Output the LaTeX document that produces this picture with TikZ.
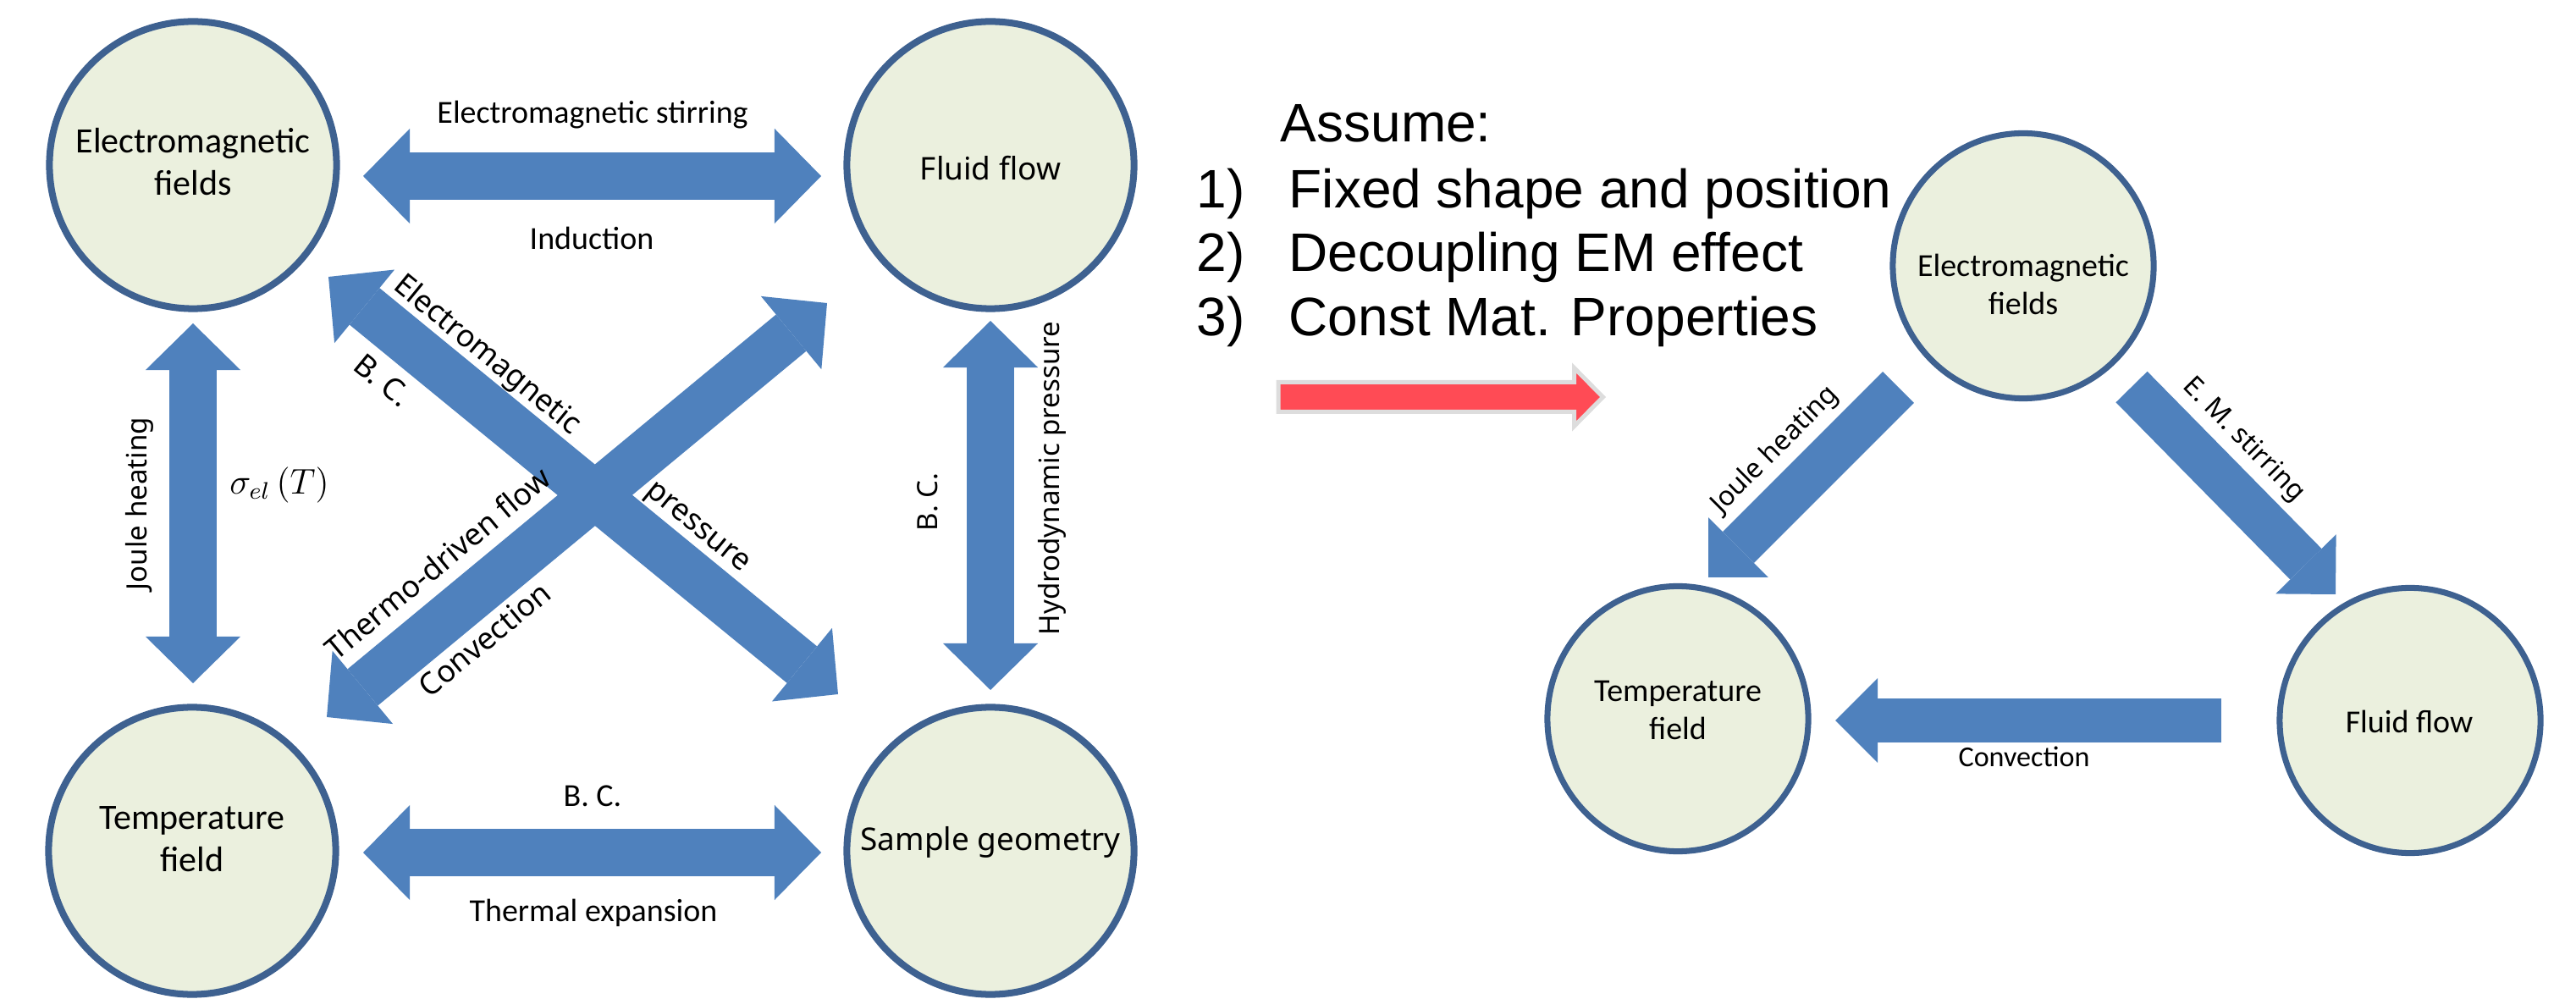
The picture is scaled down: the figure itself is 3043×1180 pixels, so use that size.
\documentclass[tikz,border=0pt]{standalone}
\usepackage[no-math]{fontspec}
\setmainfont{Carlito}
\newfontfamily\notosans{Noto Sans}
\newfontfamily\arialf{Liberation Sans}
\usetikzlibrary{arrows.meta,shapes.geometric}
\definecolor{arrowblue}{HTML}{4F81BD}
\definecolor{ringblue}{HTML}{3E6190}
\definecolor{bubblefill}{HTML}{EBF0DE}
\definecolor{redarrow}{HTML}{FF4B55}
\definecolor{rededge}{HTML}{DDDDDD}
\begin{document}
\begin{tikzpicture}[x=0.01cm,y=-0.01cm,
  bubble/.style={circle, draw=ringblue, fill=bubblefill, line width=2.28pt, minimum size=3.39cm, inner sep=0pt},
  rbubble/.style={ellipse, draw=ringblue, fill=bubblefill, line width=2pt, minimum width=3.08cm, minimum height=3.13cm, inner sep=0pt},
  ctext/.style={inner sep=0pt, align=center, font=\fontsize{11.95pt}{14.2pt}\selectfont},
  ntext/.style={inner sep=0pt, align=center, font=\notosans\fontsize{10.5pt}{12.6pt}\selectfont},
  rtext/.style={inner sep=0pt, align=center, font=\fontsize{10.8pt}{12.7pt}\selectfont},
  lab/.style={inner sep=0pt, font=\fontsize{10.8pt}{13pt}\selectfont},
  rclab/.style={inner sep=0pt, font=\fontsize{9.7pt}{12pt}\selectfont},
  vlab/.style={inner sep=0pt, font=\notosans\fontsize{9.4pt}{11pt}\selectfont},
  dlab/.style={inner sep=0pt, font=\notosans\fontsize{10.24pt}{12pt}\selectfont},
  rlab/.style={inner sep=0pt, font=\notosans\fontsize{9.1pt}{11pt}\selectfont},
  bigdouble/.style={draw=arrowblue, line width=15.93pt,
    {Triangle[width=31.87pt,length=15.65pt,line width=0pt]}-{Triangle[width=31.87pt,length=15.65pt,line width=0pt]}},
  bigsingle/.style={draw=arrowblue, line width=14.8pt,
    -{Triangle[width=28.45pt,length=14.23pt,line width=0pt]}},
  listtext/.style={inner sep=0pt, anchor=base west, font=\arialf\fontsize{18.2pt}{21.6pt}\selectfont},
  redblock/.style={fill=redarrow, draw=rededge, line width=1.42pt, line join=miter},
]
\useasboundingbox (0,0) rectangle (3043,1180);

% ---------- left diagram: bubbles ----------
\node[bubble] (em) at (228,195) {};
\node[ctext] (emt) at (228,191) {Electromagnetic\\fields};
\node[bubble] (ff) at (1170,195) {};
\node[ntext] (fft) at (1170,199) {Fluid flow};
\node[bubble] (tf) at (227,1005) {};
\node[ctext] (tft) at (227,991) {Temperature\\field};
\node[bubble] (sg) at (1170,1005) {};
\node[ntext] (sgt) at (1170,995) {Sample geometry};

% ---------- left diagram: arrows ----------
\coordinate (h1a) at (429,208);  \coordinate (h1b) at (970,208);
\coordinate (h2a) at (429,1007); \coordinate (h2b) at (970,1007);
\coordinate (v1a) at (228,382);  \coordinate (v1b) at (228,807);
\coordinate (v2a) at (1170,379); \coordinate (v2b) at (1170,815);
\coordinate (d1a) at (388,327);  \coordinate (d1b) at (990,820);
\coordinate (d2a) at (386,847);  \coordinate (d2b) at (977,358);
\draw[bigdouble] (h1a) -- (h1b);
\draw[bigdouble] (h2a) -- (h2b);
\draw[bigdouble] (v1a) -- (v1b);
\draw[bigdouble] (v2a) -- (v2b);
\draw[bigdouble] (d1a) -- (d1b);
\draw[bigdouble] (d2a) -- (d2b);

% ---------- left diagram: labels ----------
\node[lab] (l1) at (700,136) {Electromagnetic stirring};
\node[lab] (l2) at (699,281) {Induction};
\node[lab] (l3) at (700,940) {B. C.};
\node[lab] (l4) at (701,1078) {Thermal expansion};
\node[vlab, rotate=90] (l5) at (165,595) {Joule heating};
\node[inner sep=0pt, font=\fontsize{12pt}{14pt}\selectfont] (l6) at (330,573) {$\sigma_{el}\,(T)$};
\node[vlab, rotate=90] (l7) at (1096,593) {B. C.};
\node[vlab, rotate=90] (l8) at (1243,565) {Hydrodynamic pressure};
\node[dlab, rotate=-39.3] (l9) at (575,420) {Electromagnetic};
\node[dlab, rotate=-39.3] (l10) at (452,449) {B. C.};
\node[dlab, rotate=39.6] (l11) at (517,665) {Thermo-driven flow};
\node[dlab, rotate=39.6] (l12) at (572,755) {Convection};
\node[dlab, rotate=-39.3] (l13) at (822,625) {pressure};

% ---------- assumptions ----------
\node[listtext] (assume) at (1512,168) {Assume:};
\node[listtext] (n1) at (1413,246) {1)};
\node[listtext] (t1) at (1522,246) {Fixed shape and position};
\node[listtext] (n2) at (1413,321) {2)};
\node[listtext] (t2) at (1522,321) {Decoupling EM effect};
\node[listtext] (n3) at (1413,397) {3)};
\node[listtext] (t3) at (1522,397) {Const Mat. Properties};

% red block arrow
\draw[redblock] (1510,451.5) -- (1859.5,451.5) -- (1859.5,434.5) -- (1893.5,469)
  -- (1859.5,503.5) -- (1859.5,486.5) -- (1510,486.5) -- cycle;

% ---------- right diagram ----------
\node[rbubble] (rem) at (2390,314) {};
\node[rtext] (remt) at (2390,336) {Electromagnetic\\fields};
\node[rbubble] (rtf) at (1982,849) {};
\node[rtext] (rtft) at (1982,839) {Temperature\\field};
\node[rbubble] (rff) at (2847,851) {};
\node[rtext] (rfft) at (2846,852) {Fluid flow};

\coordinate (rj0) at (2242.5,457.5); \coordinate (rj1) at (2018,682);
\coordinate (rs0) at (2518,457);     \coordinate (rs1) at (2759,702);
\coordinate (rc0) at (2624,851);     \coordinate (rc1) at (2168,851);
\draw[bigsingle] (rj0) -- (rj1);
\draw[bigsingle] (rs0) -- (rs1);
\draw[bigsingle] (rc0) -- (rc1);

\node[rlab, rotate=45] (r1) at (2097,532) {Joule heating};
\node[rlab, rotate=-45.5] (r2) at (2650,520) {E. M. stirring};
\node[rclab] (r3) at (2391,894) {Convection};
\end{tikzpicture}
\end{document}
